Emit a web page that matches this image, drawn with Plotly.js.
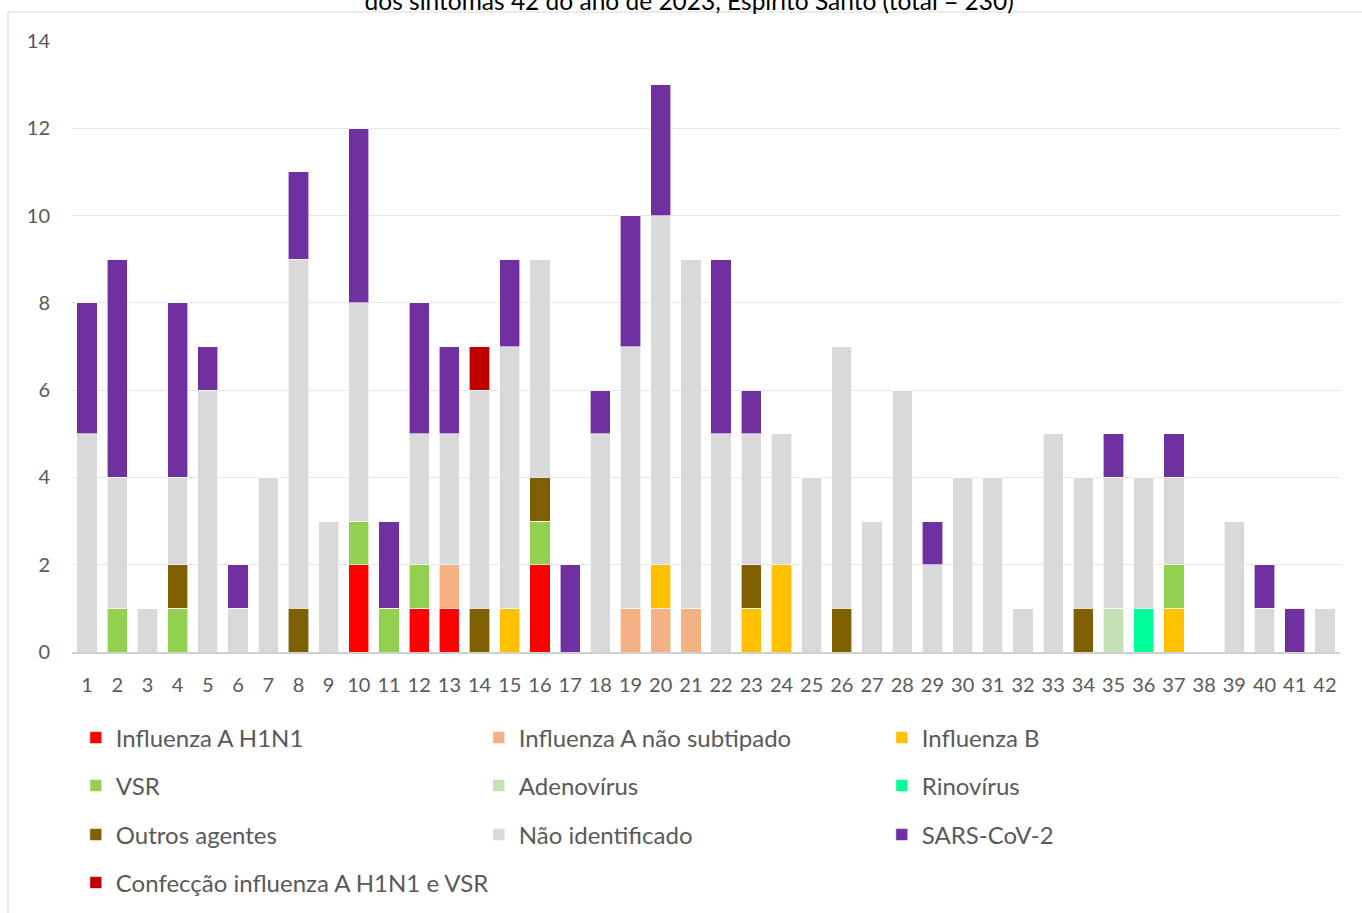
<!DOCTYPE html>
<html>
<head>
<meta charset="utf-8">
<script src="https://cdn.plot.ly/plotly-3.0.1.min.js"></script>
<style>html,body{margin:0;padding:0;background:#fff;}#chart{width:1362px;height:913px;}</style>
</head>
<body>
<div id="chart"></div>
<script>
const weeks = ["1","2","3","4","5","6","7","8","9","10","11","12","13","14","15","16","17","18","19","20","21","22","23","24","25","26","27","28","29","30","31","32","33","34","35","36","37","38","39","40","41","42"];
const h1n1       = [0,0,0,0,0,0,0,0,0,2,0,1,1,0,0,2,0,0,0,0,0,0,0,0,0,0,0,0,0,0,0,0,0,0,0,0,0,0,0,0,0,0];
const fluANs     = [0,0,0,0,0,0,0,0,0,0,0,0,1,0,0,0,0,0,1,1,1,0,0,0,0,0,0,0,0,0,0,0,0,0,0,0,0,0,0,0,0,0];
const fluB       = [0,0,0,0,0,0,0,0,0,0,0,0,0,0,1,0,0,0,0,1,0,0,1,2,0,0,0,0,0,0,0,0,0,0,0,0,1,0,0,0,0,0];
const vsr        = [0,1,0,1,0,0,0,0,0,1,1,1,0,0,0,1,0,0,0,0,0,0,0,0,0,0,0,0,0,0,0,0,0,0,0,0,1,0,0,0,0,0];
const adeno      = [0,0,0,0,0,0,0,0,0,0,0,0,0,0,0,0,0,0,0,0,0,0,0,0,0,0,0,0,0,0,0,0,0,0,1,0,0,0,0,0,0,0];
const rino       = [0,0,0,0,0,0,0,0,0,0,0,0,0,0,0,0,0,0,0,0,0,0,0,0,0,0,0,0,0,0,0,0,0,0,0,1,0,0,0,0,0,0];
const outros     = [0,0,0,1,0,0,0,1,0,0,0,0,0,1,0,1,0,0,0,0,0,0,1,0,0,1,0,0,0,0,0,0,0,1,0,0,0,0,0,0,0,0];
const naoIdent   = [5,3,1,2,6,1,4,8,3,5,0,3,3,5,6,5,0,5,6,8,8,5,3,3,4,6,3,6,2,4,4,1,5,3,3,3,2,0,3,1,0,1];
const sarsCov2   = [3,5,0,4,1,1,0,2,0,4,2,3,2,0,2,0,2,1,3,3,0,4,1,0,0,0,0,0,1,0,0,0,0,0,1,0,1,0,0,1,1,0];
const coinfec    = [0,0,0,0,0,0,0,0,0,0,0,0,0,1,0,0,0,0,0,0,0,0,0,0,0,0,0,0,0,0,0,0,0,0,0,0,0,0,0,0,0,0];

const seriesNames = ["Influenza A H1N1","Influenza A não subtipado","Influenza B","VSR","Adenovírus","Rinovírus","Outros agentes","Não identificado","SARS-CoV-2","Confecção influenza A H1N1 e VSR"];
const seriesData = [h1n1, fluANs, fluB, vsr, adeno, rino, outros, naoIdent, sarsCov2, coinfec];
const colors = ["#FF0000","#F4B183","#FFC000","#92D050","#C5E0B4","#00FF99","#7F6000","#D9D9D9","#7030A0","#C00000"];
const legendRow = ["legend","legend","legend","legend2","legend2","legend2","legend3","legend3","legend3","legend4"];

const FONT = "Lato, 'Open Sans', sans-serif";
const traces = seriesNames.map((n,i)=>({
  type:"bar", name:n, x:weeks, y:seriesData[i],
  marker:{color:colors[i], line:{color:"#ffffff", width:0.6}},
  legend: legendRow[i], hoverinfo:"x+y+name"
}));

function legendAt(py, ew){
  return {orientation:"h", x:0.003, xanchor:"left", y:-(py-652)/611, yanchor:"middle",
    entrywidth:ew, entrywidthmode:"pixels", traceorder:"normal",
    font:{family:FONT, size:24, color:"#595959"}, bgcolor:"rgba(0,0,0,0)", itemclick:false};
}

const layout = {
  width:1362, height:913,
  margin:{l:72, r:22, t:41, b:261, autoexpand:false},
  paper_bgcolor:"#ffffff", plot_bgcolor:"#ffffff",
  barmode:"stack", bargap:0.33,
  title:{text:"dos sintomas 42 do ano de 2023, Espírito Santo (total = 230)",
    font:{family:FONT, size:24.5, color:"#000000"}, x:0.506, xanchor:"center",
    yref:"container", y:0.989, yanchor:"bottom"},
  xaxis:{type:"category", tickfont:{family:FONT, size:20, color:"#595959"},
    showline:true, linecolor:"#d0d0d0", linewidth:1.5, ticks:"", showgrid:false,
    ticklabelstandoff:14, fixedrange:true},
  yaxis:{range:[0,14], dtick:2, tick0:0, tickfont:{family:FONT, size:20, color:"#595959"},
    showgrid:true, gridcolor:"#e6e6e6", gridwidth:1.3, zeroline:false, ticks:"",
    ticklabelstandoff:21, fixedrange:true},
  showlegend:true,
  legend: legendAt(738, 358),
  legend2: legendAt(786, 358),
  legend3: legendAt(835, 358),
  legend4: legendAt(883, 600),
  shapes:[{type:"rect", xref:"paper", yref:"paper",
    x0:(8-72)/1268, x1:(1370-72)/1268, y0:(652-930)/611, y1:(652-12)/611,
    line:{color:"#d9d9d9", width:1.2}, fillcolor:"rgba(0,0,0,0)", layer:"below"}]
};

Plotly.newPlot("chart", traces, layout, {displayModeBar:false, staticPlot:false});
</script>
</body>
</html>
